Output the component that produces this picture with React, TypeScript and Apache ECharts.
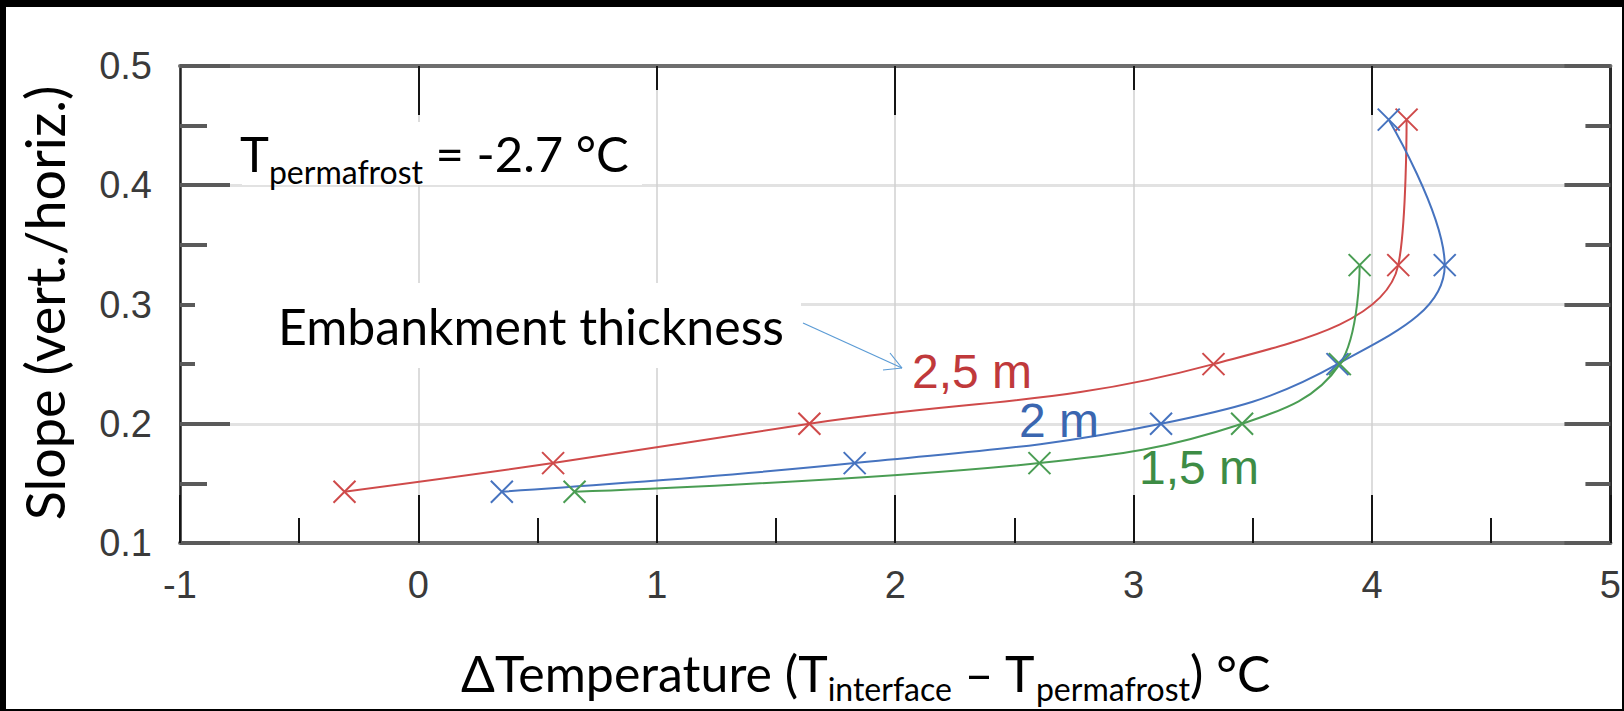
import React, { useEffect, useRef } from "react";
import * as echarts from "echarts";

// Slope values (vert./horiz.) of the computed cases
const slopes = [0.143, 0.167, 0.2, 0.25, 0.333, 0.455];

// ΔTemperature (°C) for each embankment thickness, in the order of `slopes`
const dT_25m = [-0.31, 0.565, 1.64, 3.335, 4.11, 4.145];
const dT_2m = [0.35, 1.83, 3.115, 3.855, 4.305, 4.07];
const dT_15m = [0.655, 2.605, 3.455, 3.865, 3.948];

const seriesNames = ["2,5 m", "2 m", "1,5 m"];
const seriesColors = ["#cf4a4a", "#4673bf", "#4a9d53"];
const labelColors = ["#c0393b", "#3a66b0", "#3d8c45"];

const xTickLabels = ["-1", "0", "1", "2", "3", "4", "5"];

const CROSS = "path://M0,0L10,10M10,0L0,10";

const LATO_CENTRAL = 0.387;

const measureCtx = document.createElement("canvas").getContext("2d") as CanvasRenderingContext2D;
function textWidth(s: string, size: number, family: string) {
  measureCtx.font = `${size}px ${family}`;
  return measureCtx.measureText(s).width;
}

type Part = { text: string; size: number; drop?: number };

// Lays out a run of text pieces (with subscripts) along one baseline
function inlineText(x0: number, baseline: number, parts: Part[], family: string, color: string) {
  let x = x0;
  const out: any[] = [];
  for (const p of parts) {
    const b = baseline + (p.drop || 0);
    out.push({
      type: "text",
      x,
      y: b - LATO_CENTRAL * p.size,
      z: 60,
      style: {
        text: p.text,
        fontSize: p.size,
        fontFamily: family,
        fill: color,
        align: "left",
        verticalAlign: "middle",
      },
    });
    x += textWidth(p.text, p.size, family);
  }
  return out;
}

function pairs(xs: number[]) {
  return xs.map((x, i) => [x, slopes[i]]);
}

export default function App() {
  const ref = useRef<HTMLDivElement>(null);

  useEffect(() => {
    document.body.style.margin = "0";
    const chart = echarts.init(ref.current as HTMLDivElement, null, { renderer: "svg" });

    const W = 1624;
    const H = 711;
    const titleFont = "Lato";
    const tickFont = "Liberation Sans";

    const datasets = [dT_25m, dT_2m, dT_15m];

    const series = datasets.map((xs, i) => ({
      type: "line",
      name: seriesNames[i],
      xAxisIndex: 0,
      yAxisIndex: 0,
      data: pairs(xs),
      smooth: 0.4,
      symbol: CROSS,
      symbolSize: 22,
      showAllSymbol: true,
      lineStyle: { color: seriesColors[i], width: 2 },
      itemStyle: { color: seriesColors[i], borderColor: seriesColors[i], borderWidth: 2 },
      emphasis: { disabled: true },
      z: 10,
    }));

    const graphic: any[] = [
      // white backgrounds behind the annotations
      { type: "rect", z: 50, shape: { x: 242, y: 122, width: 400, height: 63 }, style: { fill: "#fff" } },
      { type: "rect", z: 50, shape: { x: 195, y: 283, width: 606, height: 85 }, style: { fill: "#fff" } },
      // T_permafrost = -2.7 °C
      ...inlineText(240, 172, [
        { text: "T", size: 49 },
        { text: "permafrost", size: 32, drop: 12 },
        { text: " = -2.7 °C", size: 49 },
      ], titleFont, "#000"),
      // Embankment thickness
      ...inlineText(278, 345, [{ text: "Embankment thickness", size: 50 }], titleFont, "#000"),
      // arrow towards the 2,5 m curve
      { type: "line", z: 60, shape: { x1: 803, y1: 323, x2: 902, y2: 368 }, style: { stroke: "#5b9bd5", lineWidth: 1.2 } },
      { type: "line", z: 60, shape: { x1: 902, y1: 368, x2: 890, y2: 353 }, style: { stroke: "#5b9bd5", lineWidth: 1.2 } },
      { type: "line", z: 60, shape: { x1: 902, y1: 368, x2: 883, y2: 370 }, style: { stroke: "#5b9bd5", lineWidth: 1.2 } },
      // curve labels
      { type: "text", z: 60, x: 912, y: 371, style: { text: seriesNames[0], fontSize: 48, fontFamily: tickFont, fill: labelColors[0], align: "left", verticalAlign: "middle" } },
      { type: "text", z: 60, x: 1019, y: 420, style: { text: seriesNames[1], fontSize: 48, fontFamily: tickFont, fill: labelColors[1], align: "left", verticalAlign: "middle" } },
      { type: "text", z: 60, x: 1139, y: 467, style: { text: seriesNames[2], fontSize: 48, fontFamily: tickFont, fill: labelColors[2], align: "left", verticalAlign: "middle" } },
      // axis titles
      {
        type: "text", z: 60, x: 44, y: 303, rotation: Math.PI / 2,
        style: { text: "Slope (vert./horiz.)", fontSize: 54, fontFamily: titleFont, fill: "#000", align: "center", verticalAlign: "middle" },
      },
      ...inlineText(461, 692, [
        { text: "ΔTemperature (T", size: 50 },
        { text: "interface", size: 32, drop: 9 },
        { text: " – T", size: 50 },
        { text: "permafrost", size: 32, drop: 9 },
        { text: ") °C", size: 50 },
      ], titleFont, "#000"),
      // frame
      { type: "rect", z: 200, shape: { x: 0, y: 0, width: W, height: 7 }, style: { fill: "#000" } },
      { type: "rect", z: 200, shape: { x: 0, y: 0, width: 6, height: H }, style: { fill: "#000" } },
      { type: "rect", z: 200, shape: { x: W - 2, y: 0, width: 2, height: H }, style: { fill: "#000" } },
      { type: "rect", z: 200, shape: { x: 0, y: H - 2, width: W, height: 2 }, style: { fill: "#000" } },
    ];

    const tickLine = { color: "#151515", width: 2 };
    const yTickLine = { color: "#5a5a5a", width: 4 };

    chart.setOption({
      animation: false,
      backgroundColor: "#fff",
      grid: { left: 180, top: 66, width: 1432, height: 477, containLabel: false },
      xAxis: [
        {
          type: "value",
          position: "bottom",
          min: -1,
          max: 5,
          interval: 1,
          axisLine: { show: true, onZero: false, lineStyle: { color: "#707070", width: 4 } },
          axisTick: { show: true, inside: true, length: 48, lineStyle: tickLine },
          minorTick: { show: true, splitNumber: 2, length: 25, lineStyle: tickLine },
          axisLabel: {
            margin: 23,
            fontSize: 38,
            fontFamily: tickFont,
            color: "#3a3a3a",
            formatter: (v: number) => xTickLabels[Math.round(v) + 1] ?? String(v),
          },
          splitLine: { show: true, lineStyle: { color: "#d0d0d0", width: 1.5 } },
        },
        {
          type: "value",
          position: "top",
          min: -1,
          max: 5,
          interval: 1,
          axisLine: { show: true, onZero: false, lineStyle: { color: "#6e6e6e", width: 4 } },
          axisTick: { show: true, inside: true, length: 24, customValues: [1, 3], lineStyle: tickLine },
          axisLabel: { show: false },
          splitLine: { show: false },
        },
        {
          type: "value",
          position: "top",
          min: -1,
          max: 5,
          interval: 1,
          axisLine: { show: false },
          axisTick: { show: true, inside: true, length: 49, customValues: [0, 2, 4], lineStyle: tickLine },
          axisLabel: { show: false },
          splitLine: { show: false },
        },
      ],
      yAxis: [
        {
          type: "value",
          position: "left",
          min: 0.1,
          max: 0.5,
          interval: 0.1,
          axisLine: { show: true, onZero: false, lineStyle: { color: "#222", width: 2.5 } },
          axisTick: { show: true, inside: true, length: 50, lineStyle: yTickLine },
          minorTick: { show: true, splitNumber: 2, length: 27, lineStyle: yTickLine },
          axisLabel: {
            margin: 28,
            fontSize: 38,
            fontFamily: tickFont,
            color: "#3a3a3a",
            formatter: (v: number) => v.toFixed(1),
          },
          splitLine: { show: true, lineStyle: { color: "#e2e2e2", width: 3 } },
        },
        {
          type: "value",
          position: "right",
          min: 0.1,
          max: 0.5,
          interval: 0.1,
          axisLine: { show: true, onZero: false, lineStyle: { color: "#2a2a2a", width: 3 } },
          axisTick: { show: true, inside: true, length: 46, lineStyle: yTickLine },
          minorTick: { show: true, splitNumber: 2, length: 25, lineStyle: yTickLine },
          axisLabel: { show: false },
          splitLine: { show: false },
        },
      ],
      series,
      graphic,
    });

    return () => chart.dispose();
  }, []);

  return <div ref={ref} style={{ width: 1624, height: 711 }} />;
}
